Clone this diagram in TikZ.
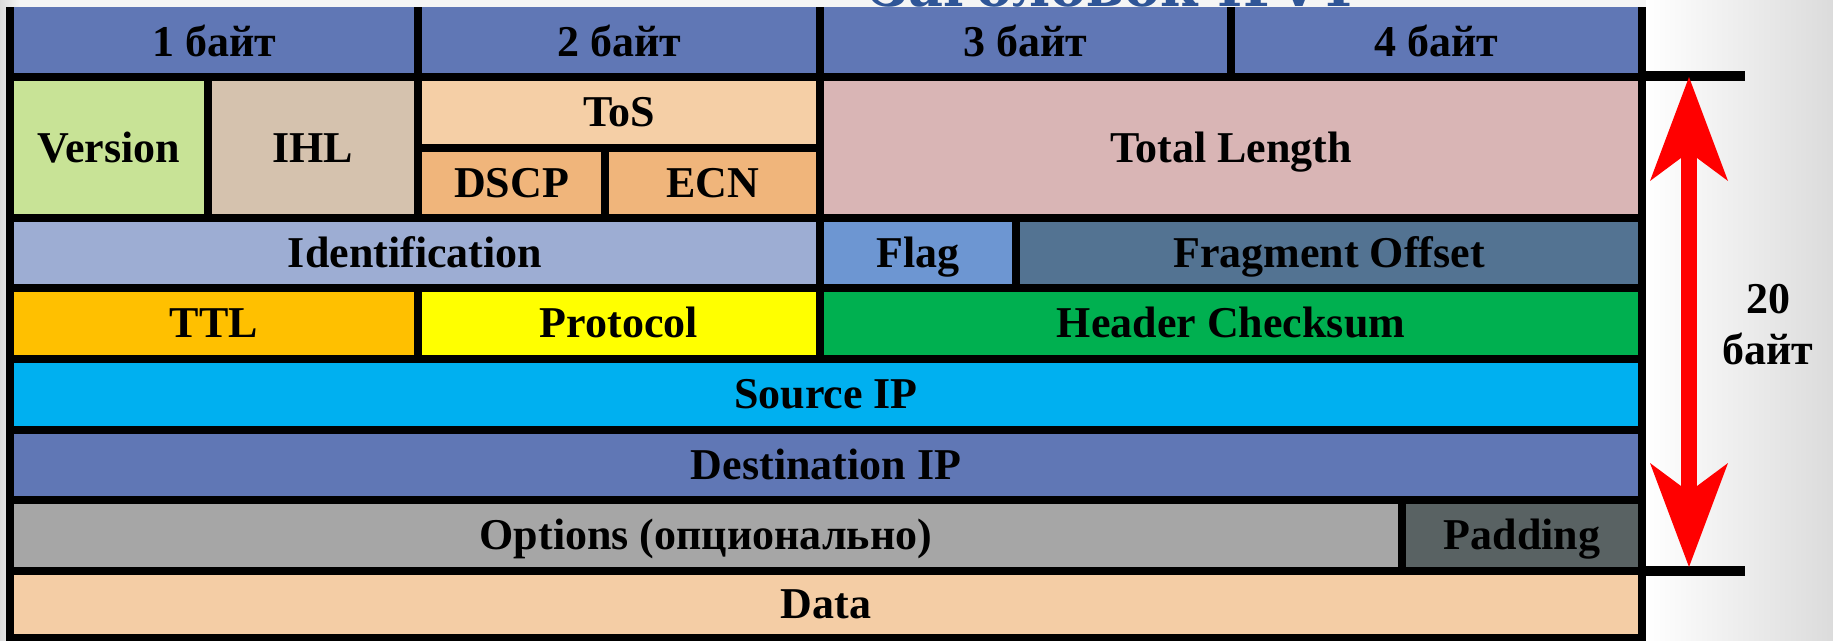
\documentclass[tikz,border=0pt]{standalone}
\usepackage{fontspec}
\setmainfont{Liberation Serif}
\newfontfamily\titlefont{DejaVu Serif}
\usetikzlibrary{arrows.meta}
\definecolor{hdr}{HTML}{6077B5}
\definecolor{cver}{HTML}{C8E396}
\definecolor{cihl}{HTML}{D5C2AE}
\definecolor{ctos}{HTML}{F5CFA6}
\definecolor{cdscp}{HTML}{F0B57B}
\definecolor{ctlen}{HTML}{D9B5B5}
\definecolor{cident}{HTML}{9DADD3}
\definecolor{cflag}{HTML}{6D96D2}
\definecolor{cfrag}{HTML}{537392}
\definecolor{cttl}{HTML}{FFC000}
\definecolor{cproto}{HTML}{FFFF00}
\definecolor{cchk}{HTML}{00B050}
\definecolor{csrc}{HTML}{00B0F0}
\definecolor{copt}{HTML}{A6A6A6}
\definecolor{cpad}{HTML}{596263}
\definecolor{cdata}{HTML}{F4CDA5}
\definecolor{ttlblue}{HTML}{2F5597}
\definecolor{arrred}{HTML}{FF0000}
\newcommand{\ipcell}[7]{%
  \node[cell, fill=#2, minimum width={#5-#3}, minimum height={#6-#4}]
    (#1) at ({(#3+#5)/2},{(#4+#6)/2}) {#7};}
\newcommand{\hdrcell}[5]{%
  \node[hcell, minimum width={#4-#2}, minimum height={#5-#3}]
    (#1) at ({(#2+#4)/2},{(#3+#5)/2}) {#1x};}
\begin{document}
\begin{tikzpicture}[x=1pt,y=-1pt,
  txt/.style={font=\fontsize{44}{50}\selectfont\bfseries, text=black},
  cell/.style={txt, rectangle, inner sep=0pt, outer sep=0pt, draw=black,
    line width=8pt, text height=29pt, text depth=0pt},
  hcell/.style={txt, rectangle, inner sep=0pt, outer sep=0pt, fill=hdr,
    text height=29pt, text depth=0pt},
  grid/.style={draw=black, line width=8pt},
  bar/.style={draw=black, line width=10pt},
  dimarrow/.style={draw=arrred, line width=16pt,
    {Stealth[length=104pt 0 0, width=78pt 0, inset=29pt 0, line width=0pt 0]}-{Stealth[length=104pt 0 0, width=78pt 0, inset=29pt 0, line width=0pt 0]}}
]
\useasboundingbox (0,0) rectangle (1833,640);
% background
\fill[black!4] (0,0) rectangle (1833,640);
\shade[left color=black!14, right color=black!4] (0,0) rectangle (20,640);
\shade[left color=white, right color=black!14] (1646,0) rectangle (1833,640);
% title (mostly outside the picture)
\node[anchor=base, text=ttlblue, font=\titlefont\bfseries\fontsize{54}{54}\selectfont]
  (title) at (1111,6) {Заголовок IPv4};
% header row
\node[hcell, minimum width=408, minimum height=70] (h1) at (214,42) {1 байт};
\node[hcell, minimum width=402, minimum height=70] (h2) at (619,42) {2 байт};
\node[hcell, minimum width=411, minimum height=70] (h3) at (1025.5,42) {3 байт};
\node[hcell, minimum width=411, minimum height=70] (h4) at (1436.5,42) {4 байт};
\draw[grid] (h1.north west) -- (h1.south west);
\draw[grid] (h1.north east) -- (h1.south east);
\draw[grid] (h2.north east) -- (h2.south east);
\draw[grid] (h3.north east) -- (h3.south east);
\draw[grid] (h4.north east) -- (h4.south east);
% body rows: name, colour, x1, y1, x2, y2, text
\ipcell{ver}{cver}{10}{77}{207.5}{218}{Version}
\ipcell{ihl}{cihl}{207.5}{77}{418}{218}{IHL}
\ipcell{tos}{ctos}{418}{77}{820}{147.5}{ToS}
\ipcell{dscp}{cdscp}{418}{147.5}{605}{218}{DSCP}
\ipcell{ecn}{cdscp}{605}{147.5}{820}{218}{ECN}
\ipcell{tlen}{ctlen}{820}{77}{1642}{218}{Total Length}
\ipcell{ident}{cident}{10}{218}{820}{288}{Identification}
\ipcell{flag}{cflag}{820}{218}{1016}{288}{Flag}
\ipcell{frag}{cfrag}{1016}{218}{1642}{288}{Fragment Offset}
\ipcell{ttl}{cttl}{10}{288}{418}{358.5}{TTL}
\ipcell{proto}{cproto}{418}{288}{820}{358.5}{Protocol}
\ipcell{chk}{cchk}{820}{288}{1642}{358.5}{Header Checksum}
\ipcell{src}{csrc}{10}{358.5}{1642}{429.5}{Source IP}
\ipcell{dst}{hdr}{10}{429.5}{1642}{499.5}{Destination IP}
\ipcell{opt}{copt}{10}{499.5}{1402}{570.5}{Options (опционально)}
\ipcell{pad}{cpad}{1402}{499.5}{1642}{570.5}{Padding}
\ipcell{data}{cdata}{10}{570.5}{1642}{638}{Data}
% size marker
\coordinate (bt1) at (1646,76);
\coordinate (bt2) at (1745,76);
\coordinate (bb1) at (1646,570.5);
\coordinate (bb2) at (1745,570.5);
\draw[bar] (bt1) -- (bt2);
\draw[bar] (bb1) -- (bb2);
\coordinate (atop) at (1689,77);
\coordinate (abot) at (1689,567);
\draw[dimarrow] (atop) -- (abot);
\node[txt, anchor=base] (n20) at (1768,313.5) {20};
\node[txt, anchor=base] (nbyte) at (1768,364) {байт};
\end{tikzpicture}
\end{document}
